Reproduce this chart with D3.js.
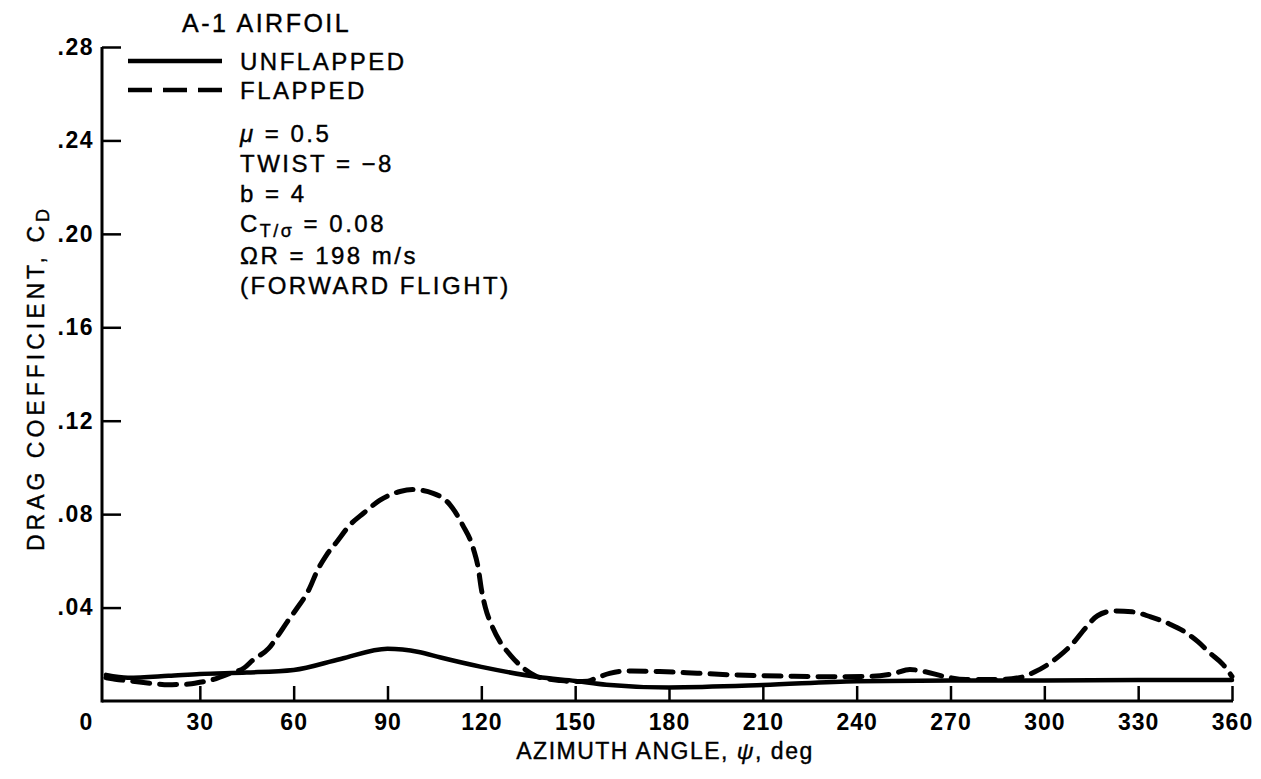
<!DOCTYPE html>
<html>
<head>
<meta charset="utf-8">
<script src="https://cdn.jsdelivr.net/npm/d3@7/dist/d3.min.js"></script>
<style>
  body { margin: 0; background: #fff; }
  svg { display: block; font-family: "Liberation Sans", Arial, sans-serif; }
</style>
</head>
<body>
<div id="chart"></div>
<script>
// azimuth (deg) and drag coefficient tick values
const azimuthTicks = [0, 30, 60, 90, 120, 150, 180, 210, 240, 270, 300, 330, 360];
const dragTicks = [0.04, 0.08, 0.12, 0.16, 0.20, 0.24, 0.28];

// unflapped blade section
const unflappedPsi = [0, 7, 20, 30, 45, 60, 75, 90, 100, 107, 120, 138, 150, 160, 180, 210, 240, 270, 300, 330, 360];
const unflappedCd = [0.0112, 0.0100, 0.0108, 0.0116, 0.0122, 0.0133, 0.0180, 0.0224, 0.0210, 0.0186, 0.0146,
  0.0103, 0.0086, 0.0070, 0.0058, 0.0068, 0.0085, 0.0088, 0.0088, 0.0090, 0.0090];

// flapped blade section
const flappedPsi = [0, 5, 10, 15, 20, 25, 30, 35, 40, 44, 47, 52, 55, 58, 61, 65, 67.4, 70.5, 73.7, 78, 82.3,
  87.6, 94, 98, 104.6, 110, 114, 117.5, 119, 120, 121.3, 123.3, 126, 129.2, 133.5, 137.7, 141, 145, 150, 154,
  157, 161, 166, 177, 189, 200, 218, 230, 245, 252, 257, 262, 268, 275, 285, 292, 297, 301, 305, 309, 313, 317,
  322, 328, 334, 340, 345, 349, 353, 357, 360];
const flappedCd = [0.0100, 0.0090, 0.0082, 0.0075, 0.0070, 0.0071, 0.0080, 0.0095, 0.0120, 0.0140, 0.0176,
  0.0225, 0.0280, 0.0340, 0.0396, 0.0480, 0.0554, 0.0625, 0.0680, 0.0754, 0.0804,
  0.0860, 0.0897, 0.0905, 0.0889, 0.0840, 0.0754, 0.0650, 0.0570, 0.0480, 0.0400, 0.0325, 0.0253, 0.0198,
  0.0140, 0.0105, 0.0095, 0.0088, 0.0083, 0.0085,
  0.0100, 0.0118, 0.0128, 0.0126, 0.0119, 0.0112, 0.0106, 0.0104, 0.0106, 0.0118, 0.0135, 0.0125, 0.0105,
  0.0092, 0.0092, 0.0100, 0.0125, 0.0155, 0.0195, 0.0245, 0.0310, 0.0365,
  0.0385, 0.0382, 0.0360, 0.0330, 0.0295, 0.0255, 0.0205, 0.0158, 0.0105];

const seriesNames = ['UNFLAPPED', 'FLAPPED'];
const conditions = ['\u03bc = 0.5', 'TWIST = \u22128', 'b = 4', 'CT/\u03c3 = 0.08', '\u03a9R = 198 m/s', '(FORWARD FLIGHT)'];

const width = 1261, height = 779;
const axisX = 102;

const svg = d3.select('#chart').append('svg')
  .attr('width', width)
  .attr('height', height);

const x = d3.scaleLinear().domain([0, 360]).range([106, 1232]);
const y = d3.scaleLinear().domain([0, 0.28]).range([701, 47]);

// frame lines
svg.append('line')
  .attr('x1', axisX).attr('x2', axisX)
  .attr('y1', y(0.28)).attr('y2', y(0) + 1.5)
  .attr('stroke', '#000').attr('stroke-width', 3);
svg.append('line')
  .attr('x1', axisX).attr('x2', x(360) + 1)
  .attr('y1', y(0)).attr('y2', y(0))
  .attr('stroke', '#000').attr('stroke-width', 3);

// y axis, ticks pointing inward
const yAxis = svg.append('g')
  .attr('transform', `translate(${axisX},0)`)
  .call(d3.axisLeft(y)
    .tickValues(dragTicks)
    .tickSize(-19)
    .tickPadding(8)
    .tickFormat(d => d3.format('.2f')(d).replace(/^0/, '')));
yAxis.select('.domain').remove();
yAxis.selectAll('.tick line').attr('stroke', '#000').attr('stroke-width', 2.5);
yAxis.selectAll('.tick text')
  .attr('fill', '#000')
  .style('font-size', '23px')
  .style('font-weight', 'bold')
  .style('letter-spacing', '1.5px');

// x axis
const xAxis = svg.append('g')
  .attr('transform', `translate(0,${y(0)})`)
  .call(d3.axisBottom(x)
    .tickValues(azimuthTicks)
    .tickSize(-15)
    .tickPadding(13));
xAxis.select('.domain').remove();
xAxis.selectAll('.tick line').attr('stroke', '#000').attr('stroke-width', 2.5);
xAxis.selectAll('.tick text')
  .attr('fill', '#000')
  .style('font-size', '23px')
  .style('font-weight', 'bold')
  .style('letter-spacing', '1px');
// zero sits at the corner, left of the frame
xAxis.selectAll('.tick').filter(d => d === 0).select('line').remove();
xAxis.selectAll('.tick').filter(d => d === 0).select('text').attr('x', -20);

// axis titles
const titleStyle = sel => sel
  .attr('fill', '#000')
  .attr('stroke', '#000')
  .attr('stroke-width', 0.4);

svg.append('text')
  .attr('x', 665).attr('y', 759)
  .attr('text-anchor', 'middle')
  .style('font-size', '23px')
  .style('letter-spacing', '1.5px')
  .call(titleStyle)
  .html('AZIMUTH ANGLE, <tspan font-style="italic">\u03c8</tspan>, deg');

svg.append('text')
  .attr('transform', 'translate(44,378) rotate(-90)')
  .attr('text-anchor', 'middle')
  .style('font-size', '23px')
  .style('letter-spacing', '4px')
  .call(titleStyle)
  .html('DRAG COEFFICIENT, C<tspan baseline-shift="-30%" font-size="18px">D</tspan>');

// curves
const line = d3.line()
  .x(d => x(d[0]))
  .y(d => y(d[1]))
  .curve(d3.curveMonotoneX);

svg.append('path')
  .datum(d3.zip(unflappedPsi, unflappedCd))
  .attr('d', line)
  .attr('fill', 'none')
  .attr('stroke', '#000')
  .attr('stroke-width', 4.5)
  .attr('stroke-linecap', 'round');

svg.append('path')
  .datum(d3.zip(flappedPsi, flappedCd))
  .attr('d', line)
  .attr('fill', 'none')
  .attr('stroke', '#000')
  .attr('stroke-width', 5)
  .attr('stroke-dasharray', '17,10')
  .attr('stroke-linecap', 'round');

// title, legend and run conditions
const notes = svg.append('g')
  .style('font-size', '24px')
  .style('letter-spacing', '2.5px')
  .call(titleStyle);

notes.append('text')
  .attr('x', 182).attr('y', 32)
  .style('font-size', '25px')
  .text('A-1 AIRFOIL');

const legendY = [61, 90];
const dashes = [null, '24,11'];
seriesNames.forEach((name, i) => {
  notes.append('line')
    .attr('x1', 128).attr('x2', 222)
    .attr('y1', legendY[i]).attr('y2', legendY[i])
    .attr('stroke-width', 4.5)
    .attr('stroke-dasharray', dashes[i]);
  notes.append('text')
    .attr('x', 240).attr('y', legendY[i] + 9)
    .text(name);
});

const rowY = [142, 172, 202, 232, 264, 294];
conditions.forEach((txt, i) => {
  const t = notes.append('text')
    .attr('x', 240).attr('y', rowY[i]);
  if (txt.startsWith('CT/')) {
    t.append('tspan').text('C');
    t.append('tspan').attr('baseline-shift', '-25%').attr('font-size', '18px').text('T/\u03c3');
    t.append('tspan').text(txt.slice(4));
  } else if (txt.startsWith('\u03bc')) {
    t.append('tspan').attr('font-style', 'italic').text('\u03bc');
    t.append('tspan').text(txt.slice(1));
  } else {
    t.text(txt);
  }
});
</script>
</body>
</html>
